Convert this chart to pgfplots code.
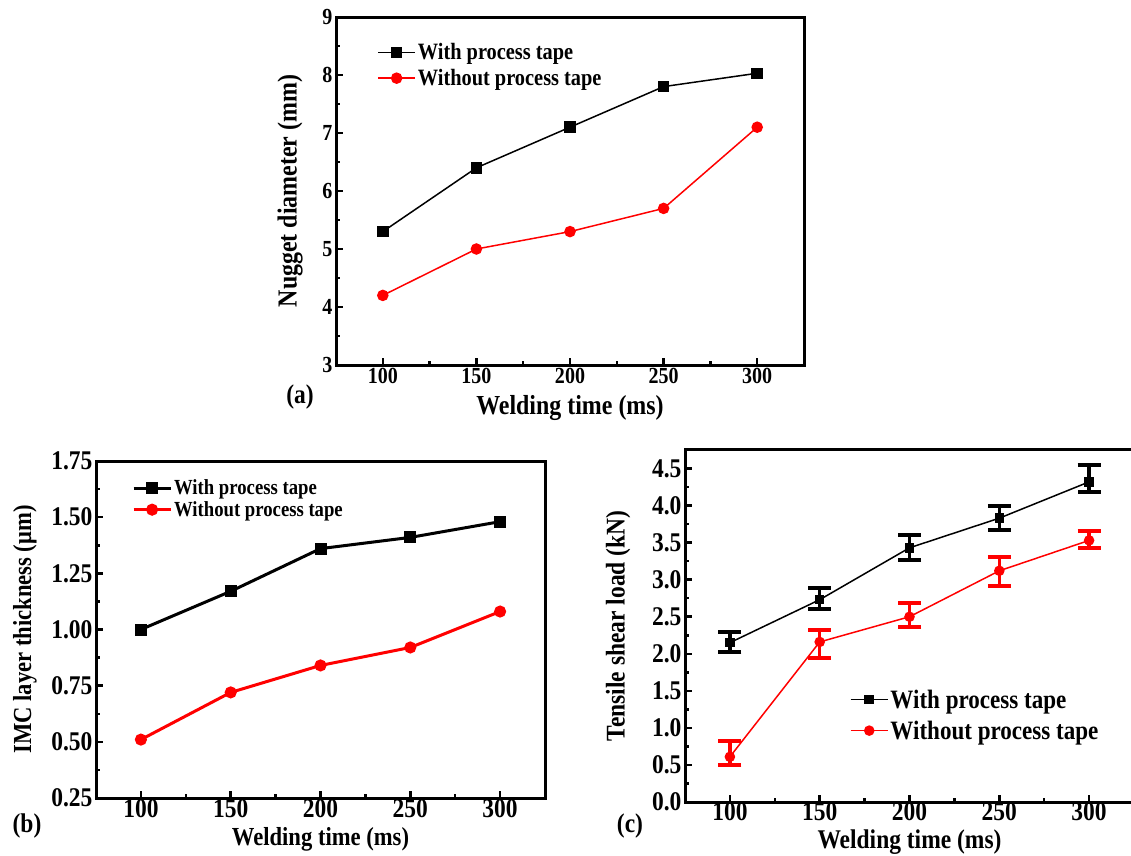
\documentclass[border=0pt]{standalone}
\usepackage{fontspec}
\setmainfont[FakeStretch=0.87]{Liberation Serif}
\usepackage{pgfplots}
\pgfplotsset{compat=1.18}

\pgfplotsset{
  origin/.style={
    scale only axis,
    axis line style={line width=3pt},
    tick pos=left,
    tick align=inside,
    major tick length=7pt,
    minor tick length=4pt,
    every tick/.style={black, line width=2.5pt},
    xmin=75, xmax=325,
    xtick={100,150,...,300},
    minor x tick num=1,
    minor y tick num=1,
    /pgf/number format/assume math mode=true,
    legend cell align=left,
  },
  blk/.style={black, mark=square*, mark options={solid}},
  rd/.style={red, mark=*, mark options={solid}},
  leg/.style={legend image code/.code={
    \draw[mark repeat=2,mark phase=2,##1] plot coordinates {(0pt,0pt)(18.5pt,0pt)(37pt,0pt)};}},
}

\begin{document}
\begin{tikzpicture}[x=1pt,y=1pt]

% (a) nugget diameter
\begin{axis}[origin, leg,
  at={(336pt,490pt)}, anchor=south west,
  width=468pt, height=348pt,
  ymin=3, ymax=9, ytick={3,4,...,9},
  tick label style={font=\fontsize{23}{23}\selectfont\bfseries},
  label style={font=\fontsize{27.5}{27.5}\selectfont\bfseries},
  xlabel={Welding time (ms)},
  ylabel={Nugget diameter (mm)},
  xlabel style={at={([yshift=-43pt]axis description cs:0.5,0)}, anchor=center},
  ylabel style={at={([xshift=-46pt]axis description cs:0,0.5)}, anchor=center},
  legend style={draw=none, fill=none, inner sep=0pt, at={(0.088,0.93)}, anchor=north west,
    font=\fontsize{23.4}{23.4}\selectfont\bfseries, row sep=4pt},
]
\addplot[blk, line width=1.5pt, mark size=5pt] coordinates {
  (100,5.30) (150,6.40) (200,7.10) (250,7.80) (300,8.03)
};
\addlegendentry{With process tape}
\addplot[rd, line width=1.5pt, mark size=5pt] coordinates {
  (100,4.20) (150,5.00) (200,5.30) (250,5.70) (300,7.10)
};
\addlegendentry{Without process tape}
\end{axis}

% (b) IMC layer thickness
\begin{axis}[origin, leg,
  at={(96pt,57pt)}, anchor=south west,
  width=449pt, height=337pt,
  ymin=0.25, ymax=1.75, ytick={0.25,0.5,...,1.75},
  yticklabel style={/pgf/number format/.cd, fixed, fixed zerofill, precision=2},
  xticklabel style={yshift=2pt},
  tick label style={font=\fontsize{27}{27}\selectfont\bfseries},
  label style={font=\fontsize{26}{26}\selectfont\bfseries},
  xlabel={Welding time (ms)},
  ylabel={IMC layer thickness (μm)},
  xlabel style={at={([yshift=-41pt]axis description cs:0.5,0)}, anchor=center},
  ylabel style={at={([xshift=-71pt]axis description cs:0,0.5)}, anchor=center},
  legend style={draw=none, fill=none, inner sep=0pt, at={(0.08,0.95)}, anchor=north west,
    font=\fontsize{21.5}{21.5}\selectfont\bfseries, row sep=1pt},
]
\addplot[blk, line width=3pt, mark size=4.5pt] coordinates {
  (100,1.00) (150,1.17) (200,1.36) (250,1.41) (300,1.48)
};
\addlegendentry{With process tape}
\addplot[rd, line width=3pt, mark size=4.5pt] coordinates {
  (100,0.51) (150,0.72) (200,0.84) (250,0.92) (300,1.08)
};
\addlegendentry{Without process tape}
\end{axis}

% (c) tensile shear load
\begin{axis}[origin, leg,
  at={(685pt,53pt)}, anchor=south west,
  width=449pt, height=352pt,
  ymin=0, ymax=4.75, ytick={0,0.5,...,4.5},
  yticklabel style={/pgf/number format/.cd, fixed, fixed zerofill, precision=1},
  xticklabel style={yshift=3pt},
  tick label style={font=\fontsize{27}{27}\selectfont\bfseries},
  label style={font=\fontsize{27}{27}\selectfont\bfseries},
  xlabel={Welding time (ms)},
  ylabel={Tensile shear load (kN)},
  xlabel style={at={([yshift=-40pt]axis description cs:0.5,0)}, anchor=center},
  ylabel style={at={([xshift=-67pt]axis description cs:0,0.5)}, anchor=center},
  legend style={draw=none, fill=none, inner sep=0pt, at={(0.367,0.325)}, anchor=north west,
    font=\fontsize{26.5}{26.5}\selectfont\bfseries, row sep=7pt},
  error bars/error bar style={line width=3.5pt},
  error bars/error mark options={rotate=90, mark size=11.5pt, line width=4pt},
]
\addplot[blk, line width=1.5pt, mark size=4pt,
  error bars/.cd, y dir=both, y explicit]
  table[x=x, y=y, y error plus=ep, y error minus=em] {
  x   y     ep    em
  100 2.15  0.14  0.13
  150 2.73  0.16  0.13
  200 3.43  0.17  0.17
  250 3.83  0.16  0.16
  300 4.32  0.23  0.14
};
\addlegendentry{With process tape}
\addplot[rd, line width=1.5pt, mark size=4.5pt,
  error bars/.cd, y dir=both, y explicit]
  table[x=x, y=y, y error plus=ep, y error minus=em] {
  x   y     ep    em
  100 0.61  0.21  0.11
  150 2.16  0.16  0.22
  200 2.50  0.19  0.14
  250 3.12  0.18  0.21
  300 3.53  0.13  0.10
};
\addlegendentry{Without process tape}
\end{axis}

\node[font=\fontsize{27}{27}\selectfont\bfseries] at (300pt,458pt) {(a)};
\node[font=\fontsize{27}{27}\selectfont\bfseries] at (27pt,29pt) {(b)};
\node[font=\fontsize{27}{27}\selectfont\bfseries] at (630pt,29pt) {(c)};

\pgfresetboundingbox
\path[use as bounding box] (0pt,0pt) rectangle (1131pt,855pt);
\end{tikzpicture}
\end{document}
